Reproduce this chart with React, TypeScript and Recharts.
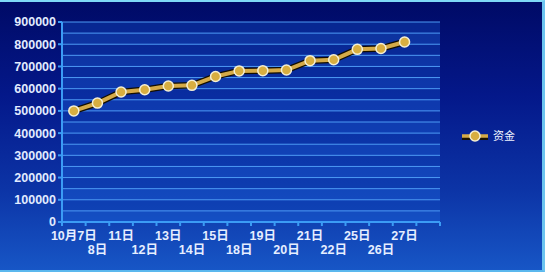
import { LineChart, Line, XAxis, YAxis, ReferenceLine, ReferenceArea } from "recharts";

// 日期（最后一格空着）
const days = ["10月7日", "8日", "11日", "12日", "13日", "14日", "15日", "18日", "19日", "20日", "21日", "22日", "25日", "26日", "27日", ""];
const funds = [500000, 535000, 585000, 595000, 612000, 615000, 655000, 680000, 681000, 684000, 726000, 730000, 777000, 781000, 810000, null];
const yTicks = [0, 100000, 200000, 300000, 400000, 500000, 600000, 700000, 800000, 900000];
const gridTicks = [0, 50000, 100000, 150000, 200000, 250000, 300000, 350000, 400000, 450000, 500000, 550000, 600000, 650000, 700000, 750000, 800000, 850000, 900000];

const data = days.map((day, i) => ({ day, funds: funds[i] }));

const AXIS = "#3b9cf5";
const GOLD = "#d4aa48";

function DayTick(props: any) {
  const { x, y, payload, index } = props;
  const half = payload?.offset || 11.8;
  const row = index % 2 === 0 ? 0 : 1;
  const isLast = index === days.length - 1;
  return (
    <g>
      <line x1={x - half} y1={y - 8} x2={x - half} y2={y - 4} stroke={AXIS} strokeWidth={2} />
      {isLast && <line x1={x + half} y1={y - 8} x2={x + half} y2={y - 4} stroke={AXIS} strokeWidth={2} />}
      <text
        x={x}
        y={y + 10 + row * 14}
        textAnchor="middle"
        fontSize={12.5}
        fontWeight="bold"
        fill="#e6eeff"
        fontFamily="'Liberation Sans', 'Noto Sans CJK SC', sans-serif"
      >
        {payload.value}
      </text>
    </g>
  );
}

function LegendBox() {
  return (
    <svg width={70} height={20} style={{ position: "absolute", left: 460, top: 125 }}>
      <line x1={2} y1={10.5} x2={28} y2={10.5} stroke="#1a1200" strokeWidth={5} />
      <line x1={2} y1={9} x2={28} y2={9} stroke={GOLD} strokeWidth={3.5} />
      <circle cx={15} cy={9} r={5} fill="#d8ae40" stroke="#f4efd4" strokeWidth={1.5} />
      <text x={33} y={13} fontSize={11} fill="#eef3ff" fontFamily="'Noto Sans CJK SC', sans-serif">
        资金
      </text>
    </svg>
  );
}

export default function App() {
  return (
    <div
      style={{
        position: "absolute",
        left: 0,
        top: 0,
        width: 545,
        height: 272,
        boxSizing: "border-box",
        borderTop: "2px solid #7fd8f6",
        borderRight: "3px solid #6cc4f0",
        borderBottom: "2px solid #5bb8ee",
        background: "linear-gradient(180deg, #000a66 0%, #04188a 35%, #0c34a6 70%, #1756c6 100%)",
      }}
    >
      <style>{"body{margin:0}"}</style>
      <div style={{ position: "absolute", left: 0, top: -2 }}>
        <LineChart width={545} height={272} data={data} margin={{ top: 22, right: 105, bottom: 0, left: 0 }}>
          <XAxis
            dataKey="day"
            scale="band"
            interval={0}
            tickLine={false}
            axisLine={{ stroke: AXIS, strokeWidth: 2 }}
            tick={<DayTick />}
            height={50}
          />
          <YAxis
            domain={[0, 900000]}
            ticks={yTicks}
            interval={0}
            width={62}
            tickSize={4}
            tickLine={{ stroke: AXIS, strokeWidth: 2 }}
            axisLine={{ stroke: AXIS, strokeWidth: 2 }}
            tick={{ fill: "#e2ebff", fontSize: 12.5, fontWeight: "bold", fontFamily: "'Liberation Sans', sans-serif" }}
          />
          {gridTicks.slice(1).map((v, i) => (
            <ReferenceArea
              key={`band-${v}`}
              y1={gridTicks[i]}
              y2={v}
              fill={i % 2 === 0 ? "#1a5fd6" : "#0f47bd"}
              fillOpacity={0.45}
              stroke="none"
            />
          ))}
          {gridTicks.slice(1).map((v) => (
            <ReferenceLine key={`grid-${v}`} y={v} stroke="#4d9bf5" strokeWidth={1} />
          ))}
          <Line
            dataKey="funds"
            stroke="#140e00"
            strokeWidth={6.5}
            dot={false}
            activeDot={false}
            legendType="none"
            isAnimationActive={false}
          />
          <Line
            dataKey="funds"
            name="资金"
            stroke={GOLD}
            strokeWidth={4}
            dot={{ r: 5, fill: "#d8ae40", stroke: "#f4efd4", strokeWidth: 1.5 }}
            isAnimationActive={false}
          />
        </LineChart>
      </div>
      <LegendBox />
    </div>
  );
}
